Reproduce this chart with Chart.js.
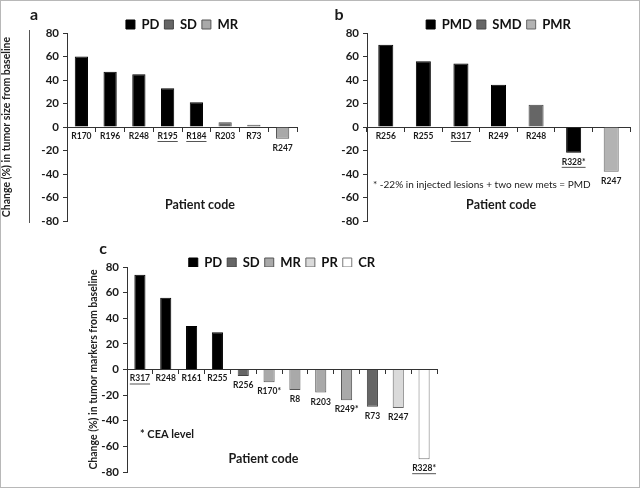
<!DOCTYPE html>
<html>
<head>
<meta charset="utf-8">
<script src="https://cdn.jsdelivr.net/npm/chart.js@4"></script>
<style>
  body { margin: 0; background: #fff; }
  #wrap { position: relative; width: 640px; height: 488px; box-sizing: border-box; border: 1px solid #b8b8b8; }
  canvas { position: absolute; }
</style>
</head>
<body>
<div id="wrap">
  <canvas id="chartA" width="320" height="232" style="left:-1px;top:-1px"></canvas>
  <canvas id="chartB" width="320" height="232" style="left:319px;top:-1px"></canvas>
  <canvas id="chartC" width="420" height="256" style="left:59px;top:227px"></canvas>
</div>
<script>
// panel a: tumor size
const aLabels = ["R170", "R196", "R248", "R195", "R184", "R203", "R73", "R247"];
const aValues = [60, 47, 45, 33, 21, 4, 2, -10];
const aGroups = ["PD", "PD", "PD", "PD", "PD", "SD", "SD", "MR"];
const aUnderlined = ["R195", "R184"];

// panel b
const bLabels = ["R256", "R255", "R317", "R249", "R248", "R328*", "R247"];
const bValues = [70, 56, 54, 36, 19, -22, -38];
const bGroups = ["PMD", "PMD", "PMD", "PMD", "SMD", "PMD", "PMR"];
const bUnderlined = ["R317", "R328*"];

// panel c: tumor markers
const cLabels = ["R317", "R248", "R161", "R255", "R256", "R170*", "R8", "R203", "R249*", "R73", "R247", "R328*"];
const cValues = [74, 56, 34, 29, -5, -10, -16, -18, -24, -29, -30, -70];
const cGroups = ["PD", "PD", "PD", "PD", "SD", "MR", "MR", "MR", "MR", "SD", "PR", "CR"];
const cUnderlined = ["R317", "R328*"];

const yTicks = [-80, -60, -40, -20, 0, 20, 40, 60, 80];

const fills = { PD: "#000", PMD: "#000", SD: "#666", SMD: "#666", MR: "#a9a9a9", PMR: "#b3b3b3", PR: "#dadada", CR: "#fff" };
const edges = { PD: "#000", PMD: "#000", SD: "#444", SMD: "#444", MR: "#555", PMR: "#666", PR: "#666", CR: "#777" };

const FONT = "Lato, 'Open Sans', sans-serif";

// draws patient codes under the bars and the free text notes
const barLabels = {
  id: "barLabels",
  afterDatasetsDraw(chart, args, opts) {
    const ctx = chart.ctx;
    const area = chart.chartArea;
    const y = chart.scales.y;
    const y0 = y.getPixelForValue(0);
    ctx.save();
    if (opts.sideLine) {
      // thin rule left of the tick labels, as in the figure
      ctx.fillStyle = "#555";
      ctx.fillRect(opts.sideLine, area.top - 3, 1, area.bottom - area.top + 5);
    }
    ctx.fillStyle = "#1a1a1a";
    ctx.textAlign = "center";
    ctx.textBaseline = "top";
    ctx.font = "bold 8.5px " + FONT;
    opts.labels.forEach((lab, i) => {
      let el = null;
      chart.data.datasets.forEach((ds, d) => {
        if (ds.data[i] !== null) el = chart.getDatasetMeta(d).data[i];
      });
      if (!el) return;
      const top = Math.max(y0, el.y) + 5;
      ctx.fillText(lab, el.x, top);
      if (opts.underline.includes(lab)) {
        const w = ctx.measureText(lab).width;
        ctx.fillStyle = "#555";
        ctx.fillRect(el.x - w / 2, top + 9, w, 1);
        ctx.fillStyle = "#1a1a1a";
      }
    });
    opts.notes.forEach(n => {
      ctx.font = n.font + " " + FONT;
      ctx.textAlign = n.align || "center";
      ctx.textBaseline = "middle";
      ctx.fillStyle = "#1a1a1a";
      const px = n.px !== undefined ? n.px : area.left + n.fx * (area.right - area.left);
      const py = n.py !== undefined ? n.py : y.getPixelForValue(n.v);
      ctx.fillText(n.text, px, py);
    });
    ctx.restore();
  }
};

function makePanel(id, labels, values, groups, order, underline, cfg) {
  const datasets = order.map(g => ({
    label: g,
    data: values.map((v, i) => (groups[i] === g ? v : null)),
    backgroundColor: fills[g],
    borderColor: edges[g],
    borderWidth: 1,
    grouped: false,
    barPercentage: cfg.barPct,
    categoryPercentage: 1
  }));
  return new Chart(document.getElementById(id), {
    type: "bar",
    data: { labels: labels, datasets: datasets },
    plugins: [barLabels],
    options: {
      responsive: false,
      animation: false,
      devicePixelRatio: 1,
      layout: { padding: cfg.padding },
      scales: {
        x: {
          position: { y: 0 },
          ticks: { display: false },
          grid: { drawOnChartArea: false, tickLength: 4, color: "#333", offset: true },
          border: { color: "#333", width: 1 }
        },
        y: {
          min: -80,
          max: 80,
          afterBuildTicks: s => { s.ticks = yTicks.map(v => ({ value: v })); },
          afterFit: s => { s.width = cfg.axisWidth; },
          ticks: { color: "#1a1a1a", font: { family: FONT, size: 11.5, weight: "bold" }, padding: 4 },
          grid: { drawOnChartArea: false, tickLength: 4, color: "#333" },
          border: { color: "#333", width: 1 },
          title: {
            display: !!cfg.yTitle,
            text: cfg.yTitle,
            color: "#222",
            font: { family: FONT, size: 10.5, weight: "bold" },
            padding: 0
          }
        }
      },
      plugins: {
        legend: {
          fullSize: false,
          maxHeight: cfg.legendHeight,
          labels: {
            boxWidth: 9,
            boxHeight: 9,
            padding: 5,
            color: "#111",
            font: { family: FONT, size: 13, weight: "bold" }
          }
        },
        tooltip: { enabled: false },
        barLabels: { labels: labels, underline: underline, notes: cfg.notes, sideLine: cfg.sideLine }
      }
    }
  });
}

makePanel("chartA", aLabels, aValues, aGroups, ["PD", "SD", "MR"], aUnderlined, {
  barPct: 0.46,
  axisWidth: 67,
  legendHeight: 20,
  sideLine: 29,
  padding: { top: 13, right: 23, bottom: 11, left: 0 },
  yTitle: "Change (%) in tumor size from baseline",
  notes: [
    { text: "a", px: 34, py: 15, font: "bold 16px" },
    { text: "Patient code", fx: 0.578, v: -66, font: "bold 12.5px" }
  ]
});

makePanel("chartB", bLabels, bValues, bGroups, ["PMD", "SMD", "PMR"], bUnderlined, {
  barPct: 0.4,
  axisWidth: 47,
  legendHeight: 20,
  padding: { top: 13, right: 10, bottom: 11, left: 0 },
  notes: [
    { text: "b", px: 19, py: 15, font: "bold 16px" },
    { text: "* -22% in injected lesions + two new mets = PMD", fx: 0.023, v: -49, align: "left", font: "10px" },
    { text: "Patient code", fx: 0.51, v: -66, font: "bold 12.5px" }
  ]
});

makePanel("chartC", cLabels, cValues, cGroups, ["PD", "SD", "MR", "PR", "CR"], cUnderlined, {
  barPct: 0.43,
  axisWidth: 40,
  legendHeight: 16,
  padding: { top: 23, right: 43, bottom: 12, left: 27 },
  yTitle: "Change (%) in tumor markers from baseline",
  notes: [
    { text: "c", px: 43, py: 21, font: "bold 16px" },
    { text: "* CEA level", fx: 0.042, v: -51, align: "left", font: "bold 11px" },
    { text: "Patient code", fx: 0.44, v: -70, font: "bold 12.5px" }
  ]
});
</script>
</body>
</html>
